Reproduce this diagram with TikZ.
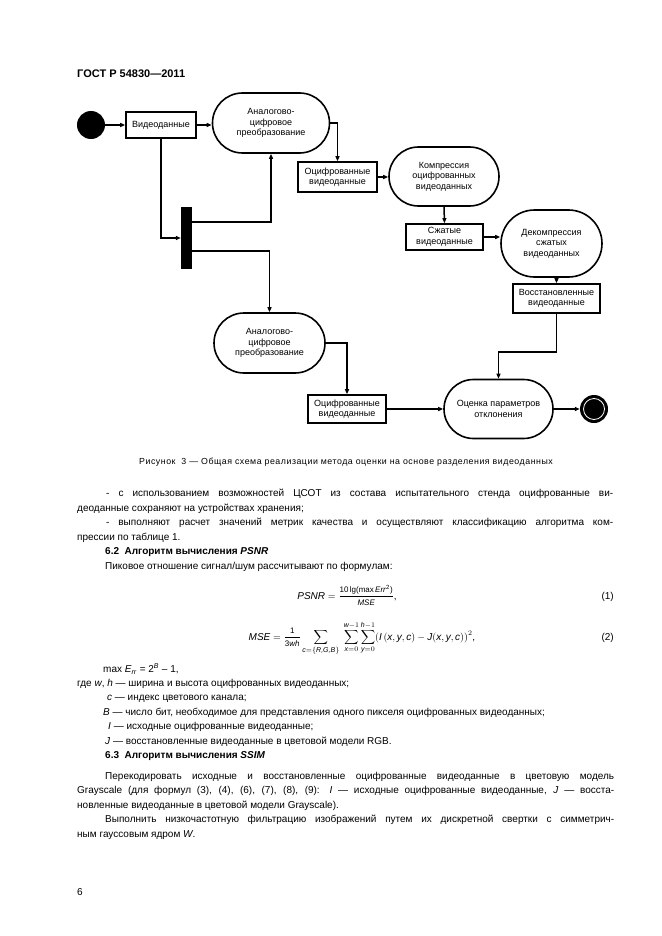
\documentclass[tikz,border=0pt]{standalone}
\usepackage{fontspec}
\setmainfont{Liberation Sans}
\newfontfamily\capfont[LetterSpace=6]{Liberation Sans}
\usepackage{amsmath}
\usetikzlibrary{arrows.meta, shapes.misc}
\newcommand{\diagfont}{\fontsize{9}{10.5}\selectfont}
\newcommand{\txtsize}{\fontsize{10}{14.5}\selectfont}
\newcommand{\frsize}{\fontsize{8}{9}\selectfont}
\newcommand{\jl}[2]{\makebox[#1][s]{#2}}

\begin{document}
\begin{tikzpicture}[x=1pt, y=-1pt,
  act/.style={rounded rectangle, draw, line width=1.6pt, align=center, font=\diagfont, inner sep=1pt},
  dat/.style={rectangle, draw, line width=1.6pt, align=center, font=\diagfont, inner sep=1pt},
  flow/.style={line width=1.5pt, -{Triangle[length=5pt, width=4pt]}},
  txt/.style={anchor=base west, inner sep=0pt, font=\txtsize},
]

% page
\fill[white] (0,0) rectangle (661,936);
\node[txt, font=\fontsize{11}{13}\selectfont\bfseries] (hdr) at (77,78) {ГОСТ Р 54830—2011};

% ============================================================
% Activity diagram
% ============================================================
\node[circle, fill=black, minimum size=28pt, inner sep=0pt] (start) at (91,125) {};
\node[dat, minimum width=70pt, minimum height=26pt] (vid) at (161,125) {Видеоданные};
\node[act, minimum width=119pt, minimum height=60pt] (adc1) at (271,123) {Аналогово-\\цифровое\\преобразование};
\node[dat, minimum width=79pt, minimum height=30pt] (dig1) at (337.5,177) {Оцифрованные\\видеоданные};
\node[act, minimum width=112pt, minimum height=59pt] (comp) at (444,176.5) {Компрессия\\оцифрованных\\видеоданных};
\node[dat, minimum width=77pt, minimum height=26pt] (zhat) at (444.5,237) {Сжатые\\видеоданные};
\node[act, minimum width=103pt, minimum height=67pt] (decomp) at (551.5,243.5) {Декомпрессия\\сжатых\\видеоданных};
\node[dat, minimum width=87pt, minimum height=29pt] (rest) at (556.5,298.5) {Восстановленные\\видеоданные};

% fork bar
\node[fill=black, minimum width=11pt, minimum height=62pt, inner sep=0pt] (fork) at (186.5,238) {};

\node[act, minimum width=113pt, minimum height=60pt] (adc2) at (269.5,343) {Аналогово-\\цифровое\\преобразование};
\node[dat, minimum width=78pt, minimum height=28pt] (dig2) at (347,409) {Оцифрованные\\видеоданные};
\node[act, minimum width=111pt, minimum height=59pt] (eval) at (498.5,409) {Оценка параметров\\отклонения};
\node[circle, fill=black, minimum size=28pt, inner sep=0pt] (finish) at (594,409) {};
\draw[white, line width=0.8pt] (finish.center) circle (10.5pt);

% connectors
\draw[flow] (start) -- (vid);
\draw[flow] (vid.east) -- (vid.east -| adc1.west);
\draw[flow] (adc1.east) -| (dig1.north);
\draw[flow] (dig1.east) -- (dig1.east -| comp.west);
\draw[flow] (comp.south) -- (zhat.north);
\draw[flow] (zhat.east) -- (zhat.east -| decomp.west);
\draw[flow] (rest.north |- decomp.south) -- (rest.north);
\draw[flow] (rest.south) -- ++(0,38) -| (eval.north);
\draw[flow] (vid.south) |- (fork.west);
\draw[flow] ([yshift=16pt]fork.east) -| (adc1.south);
\draw[flow] ([yshift=-13pt]fork.east) -| (adc2.north);
\draw[flow] (adc2.east) -| (dig2.north);
\draw[flow] (dig2.east) -- (dig2.east -| eval.west);
\draw[flow] (eval.east) -- (finish.west);

\node[anchor=base, font=\capfont\fontsize{8.8}{10}\selectfont, inner sep=0pt] (cap) at (346,464)
  {Рисунок\ \ 3 — Общая схема реализации метода оценки на основе разделения видеоданных};

% ============================================================
% Page text
% ============================================================
\node[txt] (l1) at (106,496.5) {\jl{507pt}{- с использованием возможностей ЦСОТ из состава испытательного стенда оцифрованные ви-}};
\node[txt] (l2) at (77,511) {деоданные сохраняют на устройствах хранения;};
\node[txt] (l3) at (106,525.5) {\jl{507pt}{- выполняют расчет значений метрик качества и осуществляют классификацию алгоритма ком-}};
\node[txt] (l4) at (77,540) {прессии по таблице 1.};
\node[txt] (l5) at (105,554.5) {\textbf{6.2\ \ Алгоритм вычисления \textit{PSNR}}};
\node[txt] (l6) at (105,569) {Пиковое отношение сигнал/шум рассчитывают по формулам:};

\node[anchor=base, inner sep=0pt, font=\txtsize] (f1) at (347,599)
  {$\textit{PSNR} = \dfrac{\text{\frsize 10\,lg(max\,\textit{Err}\textsuperscript{2})}}{\text{\frsize\itshape MSE}}$,};
\node[anchor=base east, inner sep=0pt, font=\txtsize] (n1) at (614,599) {(1)};
\node[anchor=base, inner sep=0pt, font=\txtsize] (f2) at (362,640)
  {$\textit{MSE} = \dfrac{\text{\frsize 1}}{\text{\frsize 3\textit{wh}}}\displaystyle\sum_{\textit{c}=\{\textit{R,G,B}\}}\;\sum_{\textit{x}=0}^{\textit{w}-1}\sum_{\textit{y}=0}^{\textit{h}-1}(\textit{I}\,(\textit{x},\textit{y},\textit{c})-\textit{J}(\textit{x},\textit{y},\textit{c}))^2$,};
\node[anchor=base east, inner sep=0pt, font=\txtsize] (n2) at (614,640) {(2)};

\node[txt] (l7) at (103,672.5) {max \textit{E}\textsubscript{\textit{rr}} = 2\textsuperscript{\textit{B}} – 1,};
\node[txt] (l8) at (77,686.5) {где \textit{w}, \textit{h} — ширина и высота оцифрованных видеоданных;};
\node[txt] (l9) at (107,700.5) {\textit{c} — индекс цветового канала;};
\node[txt] (l10) at (103,715) {\textit{B} — число бит, необходимое для представления одного пикселя оцифрованных видеоданных;};
\node[txt] (l11) at (108,729.5) {\textit{I} — исходные оцифрованные видеоданные;};
\node[txt] (l12) at (105,744) {\textit{J} — восстановленные видеоданные в цветовой модели RGB.};
\node[txt] (l13) at (105,758.5) {\textbf{6.3\ \ Алгоритм вычисления \textit{SSIM}}};
\node[txt] (l14) at (105,779) {\jl{509pt}{Перекодировать исходные и восстановленные оцифрованные видеоданные в цветовую модель}};
\node[txt] (l15) at (77,793.5) {\jl{537pt}{Grayscale (для формул (3), (4), (6), (7), (8), (9): \textit{I} — исходные оцифрованные видеоданные, \textit{J} — восста-}};
\node[txt] (l16) at (77,808) {новленные видеоданные в цветовой модели Grayscale).};
\node[txt] (l17) at (105,822.5) {\jl{509pt}{Выполнить низкочастотную фильтрацию изображений путем их дискретной свертки с симметрич-}};
\node[txt] (l18) at (77,837) {ным гауссовым ядром \textit{W}.};
\node[txt] (pg) at (77,895.5) {6};

\end{tikzpicture}
\end{document}
